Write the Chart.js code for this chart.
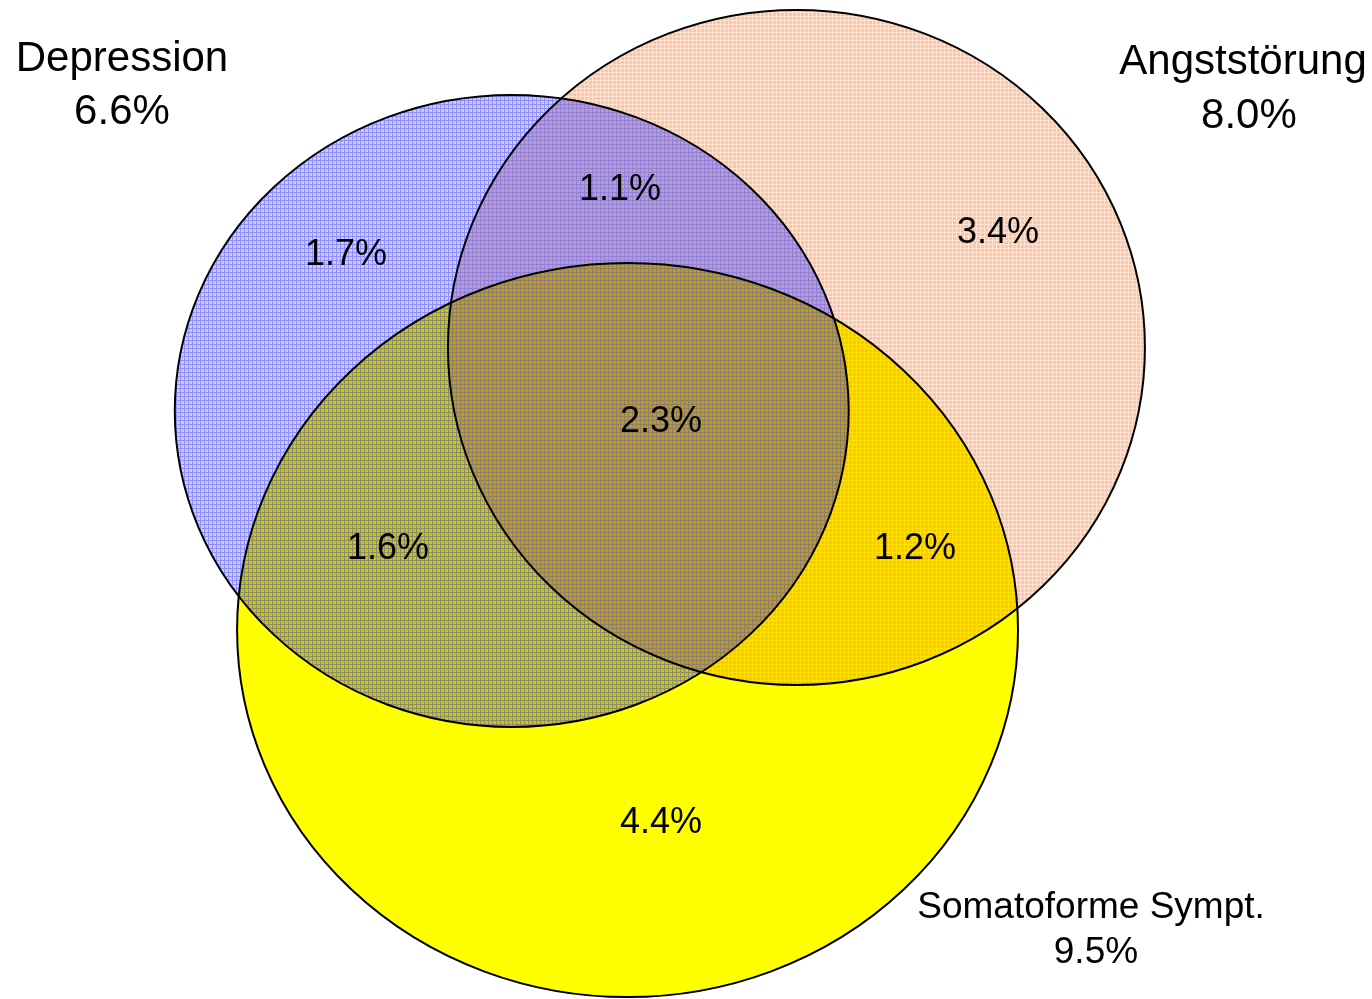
<!DOCTYPE html>
<html>
<head>
<meta charset="utf-8">
<script src="https://cdn.jsdelivr.net/npm/chart.js@4.4.1/dist/chart.umd.min.js"></script>
<style>
  html, body { margin: 0; padding: 0; background: #fff; }
  #wrap { width: 1372px; height: 999px; }
</style>
</head>
<body>
<div id="wrap"><canvas id="myChart"></canvas></div>
<script>
// sets: Depression, Angststörung, Somatoforme Sympt. (axis units, x 0..100, y 0..73)
const setNames = ['Depression', 'Angststörung', 'Somatoforme Sympt.'];
const setTotals = ['6.6%', '8.0%', '9.5%'];
const circleX = [37.3, 58.05, 45.74];
const circleY = [42.97, 47.61, 26.96];
const circleRx = [24.56, 25.4, 28.46];
const circleRy = [23.09, 24.66, 26.82];

// set name / total label anchors
const nameX = [8.89, 90.6, 79.52];
const nameY = [68.69, 68.47, 6.65];
const totalX = [8.89, 91.03, 79.88];
const totalY = [64.82, 64.52, 3.36];

// overlap regions
const regionLabels = ['1.7%', '1.1%', '3.4%', '2.3%', '1.6%', '1.2%', '4.4%'];
const regionX = [25.22, 45.19, 72.74, 48.18, 28.28, 66.69, 48.18];
const regionY = [54.37, 59.12, 55.97, 42.16, 32.88, 32.88, 12.86];

const FONT = '"Liberation Sans", Arial, Helvetica, sans-serif';
const nameFontSize = [42, 42, 37];

// small grid tiles for the hatched fills
function makeTile(bg, line, step) {
    const c = document.createElement('canvas');
    c.width = step; c.height = step;
    const cx = c.getContext('2d');
    const img = cx.createImageData(step, step);
    for (let y = 0; y < step; y++) {
        for (let x = 0; x < step; x++) {
            const col = (x === 0 || y === 0) ? line : bg;
            const i = (y * step + x) * 4;
            img.data[i] = col[0];
            img.data[i + 1] = col[1];
            img.data[i + 2] = col[2];
            img.data[i + 3] = Math.round(col[3] * 255);
        }
    }
    cx.putImageData(img, 0, 0);
    return c;
}

const ctx = document.getElementById('myChart').getContext('2d');
// base fill (multiplied) and optional grid line overlay per set
const fills = [
    ctx.createPattern(makeTile([100, 100, 255, 0.35], [100, 100, 255, 0.35], 4), 'repeat'),
    ctx.createPattern(makeTile([255, 140, 70, 0.5], [255, 140, 70, 0.25], 4), 'repeat'),
    '#ffff00'
];
const overlays = [
    ctx.createPattern(makeTile([0, 0, 0, 0], [60, 60, 255, 0.42], 4), 'repeat'),
    null,
    null
];
const drawOrder = [2, 1, 0];

const vennCircles = {
    id: 'vennCircles',
    beforeDatasetsDraw(chart) {
        const c = chart.ctx;
        const xs = chart.scales.x, ys = chart.scales.y;
        const shapes = circleX.map((v, i) => {
            const px = xs.getPixelForValue(v);
            const py = ys.getPixelForValue(circleY[i]);
            return {
                px: px,
                py: py,
                rx: Math.abs(xs.getPixelForValue(v + circleRx[i]) - px),
                ry: Math.abs(ys.getPixelForValue(circleY[i] + circleRy[i]) - py)
            };
        });
        c.save();
        drawOrder.forEach(i => {
            const s = shapes[i];
            c.beginPath();
            c.ellipse(s.px, s.py, s.rx, s.ry, 0, 0, Math.PI * 2);
            c.globalCompositeOperation = 'multiply';
            c.fillStyle = fills[i];
            c.fill();
            if (overlays[i]) {
                c.globalCompositeOperation = 'source-over';
                c.fillStyle = overlays[i];
                c.fill();
            }
        });
        c.globalCompositeOperation = 'source-over';
        c.strokeStyle = '#000';
        c.lineWidth = 2;
        drawOrder.forEach(i => {
            const s = shapes[i];
            c.beginPath();
            c.ellipse(s.px, s.py, s.rx, s.ry, 0, 0, Math.PI * 2);
            c.stroke();
        });
        c.restore();
    }
};

const vennText = {
    id: 'vennText',
    afterDatasetsDraw(chart) {
        const c = chart.ctx;
        c.save();
        c.fillStyle = '#000';
        c.textAlign = 'center';
        c.textBaseline = 'middle';
        chart.data.datasets.forEach((ds, di) => {
            const meta = chart.getDatasetMeta(di);
            meta.data.forEach((pt, i) => {
                const size = ds.fontSizes ? ds.fontSizes[i] : ds.fontSize;
                c.font = size + 'px ' + FONT;
                c.fillText(ds.texts[i], pt.x, pt.y);
            });
        });
        c.restore();
    }
};

new Chart(ctx, {
    type: 'scatter',
    data: {
        datasets: [
            {
                label: 'Regionen',
                data: regionX.map((x, i) => ({ x: x, y: regionY[i] })),
                texts: regionLabels,
                fontSize: 36,
                pointRadius: 0
            },
            {
                label: 'Namen',
                data: nameX.map((x, i) => ({ x: x, y: nameY[i] })),
                texts: setNames,
                fontSizes: nameFontSize,
                pointRadius: 0
            },
            {
                label: 'Gesamt',
                data: totalX.map((x, i) => ({ x: x, y: totalY[i] })),
                texts: setTotals,
                fontSizes: nameFontSize,
                pointRadius: 0
            }
        ]
    },
    options: {
        responsive: true,
        maintainAspectRatio: false,
        animation: false,
        layout: { padding: 0 },
        plugins: {
            legend: { display: false },
            tooltip: { enabled: false }
        },
        scales: {
            x: { type: 'linear', min: 0, max: 100, display: false },
            y: { type: 'linear', min: 0, max: 73, display: false }
        }
    },
    plugins: [vennCircles, vennText]
});
</script>
</body>
</html>
